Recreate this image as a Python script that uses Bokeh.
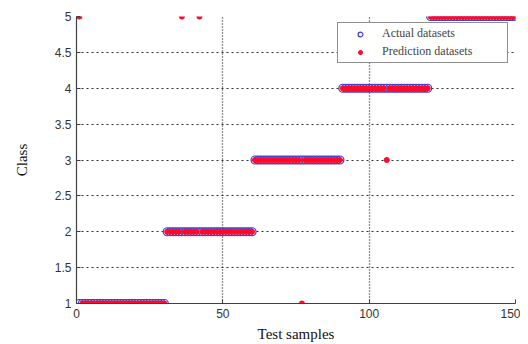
import numpy as np
from bokeh.plotting import figure
from bokeh.models import Range1d, FixedTicker, Legend, LegendItem, ColumnDataSource
from bokeh.embed import file_html
from bokeh.resources import INLINE

# Actual classes for test samples 1..150
samples = list(range(1, 151))
actual = [1] * 30 + [2] * 30 + [3] * 30 + [4] * 30 + [5] * 30
# Misclassified samples (sample index -> predicted class)
err_samples = [1, 36, 42, 77, 106]
err_classes = [5, 5, 5, 1, 3]
predicted = list(actual)
for s, c in zip(err_samples, err_classes):
    predicted[s - 1] = c

x_ticks = [0, 50, 100, 150]
y_ticks = [1, 1.5, 2, 2.5, 3, 3.5, 4, 4.5, 5]

p = figure(width=520, height=344, output_backend="svg", toolbar_location=None,
           x_range=Range1d(0, 150), y_range=Range1d(1, 5),
           min_border_left=76, min_border_right=5, min_border_top=16, min_border_bottom=38)
p.outline_line_color = None
p.background_fill_color = "white"

src_a = ColumnDataSource(dict(x=samples, y=actual))
src_p = ColumnDataSource(dict(x=samples, y=predicted))
r1 = p.scatter("x", "y", source=src_a, marker="circle", size=8, fill_color=None,
               line_color="#3a3ad8", line_width=1.2)
r2 = p.scatter("x", "y", source=src_p, marker="asterisk", size=6, line_color="#ff0a28",
               line_width=1.8)

for ax in (p.xaxis[0], p.yaxis[0]):
    ax.axis_line_color = "#404040"
    ax.axis_line_width = 1.2
    ax.major_tick_in = 4
    ax.major_tick_out = 0
    ax.minor_tick_line_color = None
    ax.major_tick_line_color = "#404040"
    ax.major_label_text_font = "Liberation Sans"
    ax.major_label_text_font_size = "12px"
    ax.major_label_text_color = "#333333"
    ax.axis_label_text_font = "Liberation Serif"
    ax.axis_label_text_font_size = "15px"
    ax.axis_label_text_font_style = "normal"
    ax.axis_label_text_color = "#111111"

p.xaxis.ticker = FixedTicker(ticks=x_ticks)
p.yaxis.ticker = FixedTicker(ticks=y_ticks)
p.yaxis.major_label_overrides = {1: "1", 2: "2", 3: "3", 4: "4", 5: "5"}
p.xaxis.axis_label = "Test samples"
p.yaxis.axis_label = "Class"
p.xaxis.major_label_standoff = 5
p.xaxis.axis_label_standoff = 5
p.yaxis.major_label_standoff = 5
p.yaxis.axis_label_standoff = 22

p.xgrid.ticker = FixedTicker(ticks=[50, 100, 150])
p.xgrid.grid_line_color = "#202020"
p.xgrid.grid_line_dash = "1 2"
p.xgrid.grid_line_width = 1.3
p.ygrid.grid_line_color = "#303030"
p.ygrid.grid_line_dash = "2 3"
p.ygrid.grid_line_width = 1

legend = Legend(items=[LegendItem(label="Actual datasets", renderers=[r1]),
                       LegendItem(label="Prediction datasets", renderers=[r2])],
                location=(261, 240))
legend.margin = 0
legend.border_line_color = "#202020"
legend.border_line_width = 1
legend.label_text_font = "Liberation Serif"
legend.label_text_font_size = "12px"
legend.label_height = 12
legend.label_width = 122
legend.glyph_height = 12
legend.glyph_width = 38
legend.spacing = 3
legend.padding = 3
legend.label_standoff = 3
legend.background_fill_alpha = 1
p.add_layout(legend)

open("out.html", "w").write(file_html(p, INLINE))
